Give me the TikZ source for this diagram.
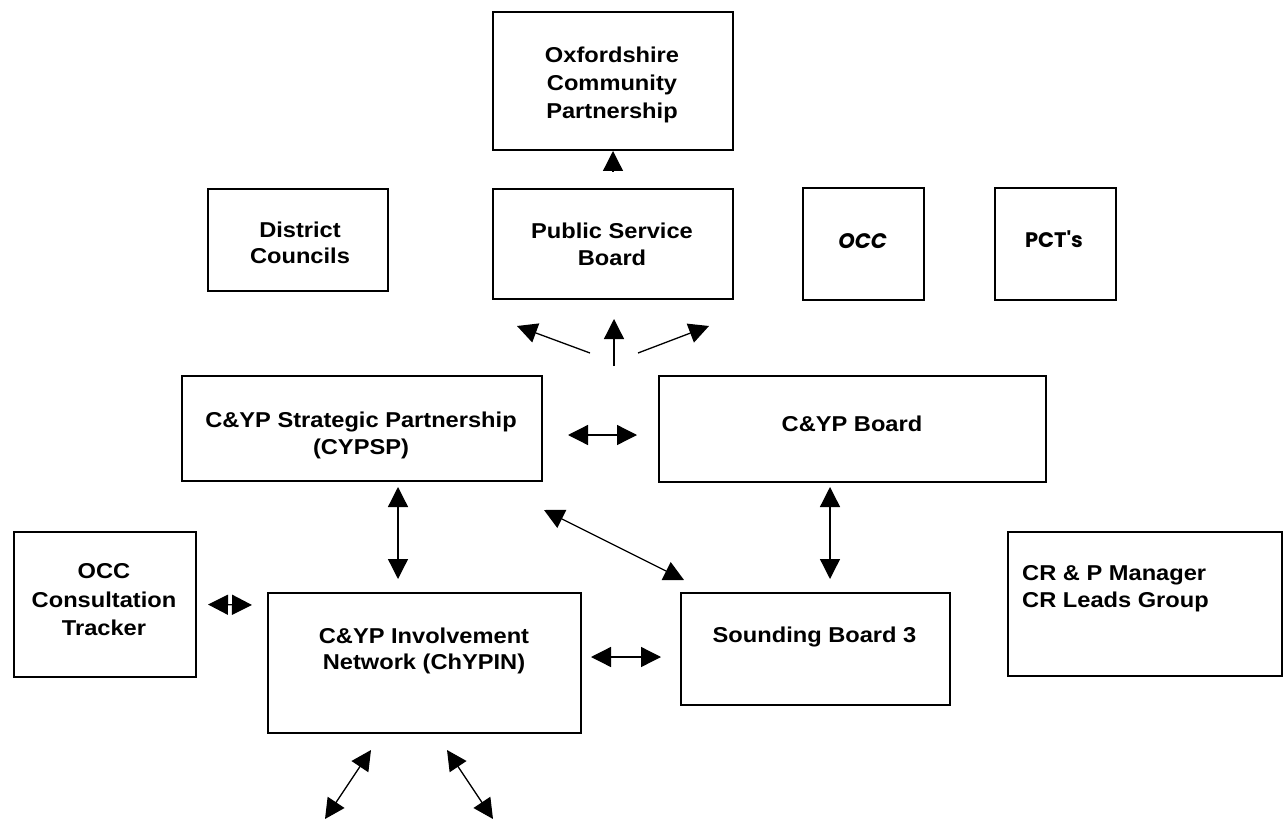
\documentclass[tikz,border=0pt]{standalone}
\usepackage{fontspec}
\setmainfont{Liberation Sans}
\newfontfamily\boxfont[FakeStretch=1.1]{Liberation Sans}
\newfontfamily\comicfont{Poppins}
\usetikzlibrary{arrows.meta}
\begin{document}
\begin{tikzpicture}[x=1pt,y=-1pt,
  box/.style={draw,line width=2pt,inner sep=0pt,anchor=north west},
  lbl/.style={font=\boxfont\bfseries\fontsize{21.5}{27.5}\selectfont,align=center,inner sep=0pt,anchor=north},
  lbll/.style={font=\boxfont\bfseries\fontsize{21.5}{27}\selectfont,align=left,inner sep=0pt,anchor=north west},
  clbl/.style={font=\comicfont\bfseries\fontsize{21}{25}\selectfont,inner sep=0pt,anchor=base},
  arr/.style={line width=1.3pt,-{Triangle[length=20pt,width=20pt]}},
  darr/.style={line width=1.3pt,{Triangle[length=20pt,width=20pt]}-{Triangle[length=20pt,width=20pt]}}]
\useasboundingbox (0,0) rectangle (1284,821);
% boxes
\node[box,minimum width=240pt,minimum height=138pt] (ocp) at (492,11) {};
\node[box,minimum width=240pt,minimum height=110pt] (psb) at (492,188) {};
\node[box,minimum width=180pt,minimum height=102pt] (dc) at (207,188) {};
\node[box,minimum width=121pt,minimum height=112pt] (occ) at (802,187) {};
\node[box,minimum width=121pt,minimum height=112pt] (pct) at (994,187) {};
\node[box,minimum width=360pt,minimum height=105pt] (cypsp) at (181,375) {};
\node[box,minimum width=387pt,minimum height=106pt] (board) at (658,375) {};
\node[box,minimum width=182pt,minimum height=145pt] (tracker) at (13,531) {};
\node[box,minimum width=313pt,minimum height=140pt] (chypin) at (267,592) {};
\node[box,minimum width=269pt,minimum height=112pt] (sb) at (680,592) {};
\node[box,minimum width=274pt,minimum height=144pt] (crp) at (1007,531) {};
% texts
\node[lbl,font=\boxfont\bfseries\fontsize{21.5}{28}\selectfont] (tocp) at (612,46.5) {Oxfordshire\\Community\\Partnership};
\node[lbl] (tpsb) at (612,222.5) {Public Service\\Board};
\node[lbl,font=\boxfont\bfseries\fontsize{21.5}{26}\selectfont] (tdc) at (300,221.5) {District\\Councils};
\node[clbl,font=\comicfont\bfseries\itshape\fontsize{21}{25}\selectfont] (tocc) at (862.5,248) {OCC};
\node[clbl] (tpct) at (1054,247) {PCT's};
\node[lbl] (tcypsp) at (361,411.5) {C\&YP Strategic Partnership\\(CYPSP)};
\node[lbl] (tboard) at (852,415.5) {C\&YP Board};
\node[lbl,font=\boxfont\bfseries\fontsize{21.5}{28.5}\selectfont] (ttracker) at (104,563.5) {OCC\\Consultation\\Tracker};
\node[lbl,font=\boxfont\bfseries\fontsize{21.5}{26}\selectfont] (tchypin) at (424,627.5) {C\&YP Involvement\\Network (ChYPIN)};
\node[lbl] (tsb) at (814.5,626.5) {Sounding Board 3};
\node[lbll] (tcrp) at (1022,565.5) {CR \& P Manager\\CR Leads Group};
% free ends
\coordinate (fl) at (517,326);
\coordinate (fr) at (709,326);
\coordinate (bl) at (325,819);
\coordinate (br) at (493,819);
% connectors
\draw[arr] ([yshift=16pt]psb.north) -- (ocp.south);
\draw[arr] ([xshift=1pt,yshift=-66pt]psb.south) -- ([xshift=1pt,yshift=-19pt]psb.south);
\draw[arr] ([xshift=-23pt,yshift=-53pt]psb.south) -- (fl);
\draw[arr] ([xshift=25pt,yshift=-53pt]psb.south) -- (fr);
\draw[darr] ([xshift=25pt,yshift=-6.5pt]cypsp.east) -- ([xshift=-21pt,yshift=-6pt]board.west);
\draw[darr] ([xshift=36pt,yshift=-5pt]cypsp.south) -- ([xshift=-26.5pt,yshift=13pt]chypin.north);
\draw[darr] ([xshift=1pt,yshift=-28pt]cypsp.south east) -- ([xshift=4pt,yshift=12pt]sb.north west);
\draw[darr] ([xshift=-22.5pt,yshift=-4pt]board.south) -- ([xshift=14.5pt,yshift=13pt]sb.north);
\draw[darr] ([xshift=11pt]tracker.east) -- ([xshift=-15pt,yshift=58pt]chypin.west);
\draw[darr] ([xshift=9pt,yshift=6pt]chypin.east) -- ([xshift=-19pt,yshift=-8pt]sb.west);
\draw[darr] ([xshift=-53.5pt,yshift=-16pt]chypin.south) -- (bl);
\draw[darr] ([xshift=22.5pt,yshift=-16pt]chypin.south) -- (br);
\end{tikzpicture}
\end{document}
